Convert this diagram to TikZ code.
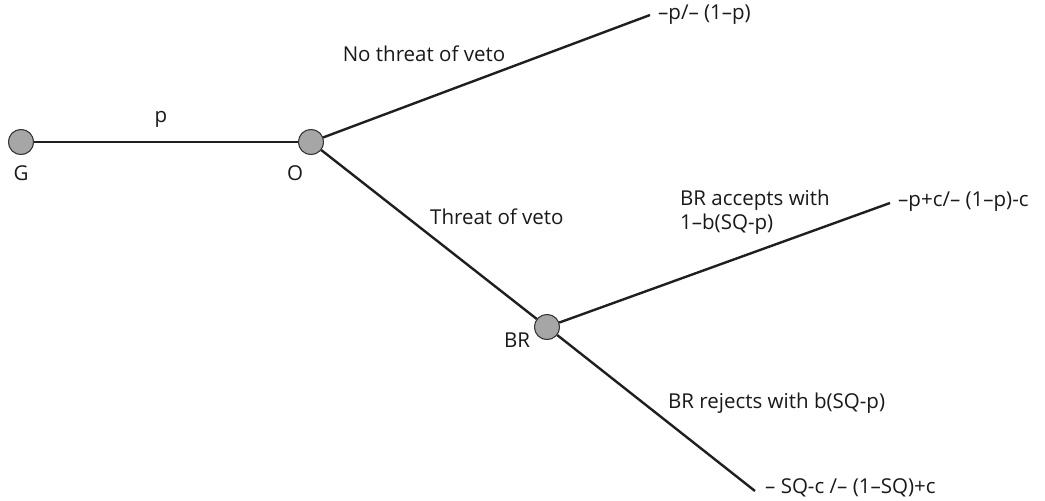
\documentclass[tikz,border=0pt]{standalone}
\usepackage{fontspec}
\setmainfont{Open Sans}
\begin{document}
\begin{tikzpicture}[x=1pt,y=-1pt,
  every node/.style={font=\fontsize{20.5}{24}\selectfont, text=black!90, inner sep=0pt},
  branch/.style={line width=2.4pt, draw=black!88},
  dnode/.style={circle, minimum size=25pt, fill=black!35!white, draw=black!80, line width=0.9pt}]
\useasboundingbox (0,0) rectangle (1045,501);
\node[dnode] (G) at (21,142) {};
\node[dnode] (O) at (311,142) {};
\node[dnode] (BR) at (547,327) {};
\coordinate (e1) at (650,15);
\coordinate (e2) at (890,203);
\coordinate (e3) at (755,491);
\draw[branch] (G) -- (O);
\draw[branch] (O) -- (e1);
\draw[branch] (O) -- (BR);
\draw[branch] (BR) -- (e2);
\draw[branch] (BR) -- (e3);
\node[dnode] at (G) {};
\node[dnode] at (O) {};
\node[dnode] at (BR) {};
\node (lG) at (21,173) {G};
\node (lO) at (295,173) {O};
\node (lBR) at (517,340) {BR};
\node[anchor=base] (lp) at (161,122) {p};
\node[anchor=base] (lno) at (424,61) {No threat of veto};
\node[anchor=west] (lth) at (430,217) {Threat of veto};
\node[anchor=west, align=left] (lacc) at (680,212) {BR accepts with\\1--b(SQ-p)};
\node[anchor=west] (lrej) at (668,403) {BR rejects with b(SQ-p)};
\node[anchor=west] (p1) at (658,15) {--p/-- (1--p)};
\node[anchor=west] (p2) at (898,202) {--p+c/-- (1--p)-c};
\node[anchor=west] (p3) at (765,488) {-- SQ-c /-- (1--SQ)+c};
\end{tikzpicture}
\end{document}
